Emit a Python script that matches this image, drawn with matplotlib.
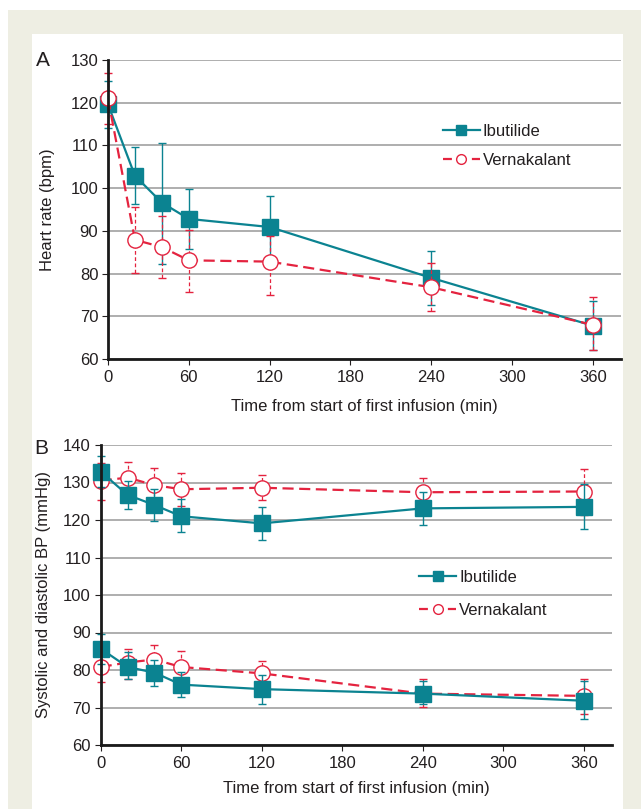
import matplotlib
matplotlib.use("Agg")
import matplotlib.pyplot as plt
from matplotlib.lines import Line2D
from matplotlib.patches import Rectangle

plt.rcParams['font.family'] = ['Liberation Sans', 'DejaVu Sans']

# ---------------- data ----------------
times = [0, 20, 40, 60, 120, 240, 360]
x_ticks = [0, 60, 120, 180, 240, 300, 360]

# Panel A: heart rate
hr_ibu = [119.6, 102.9, 96.6, 92.8, 90.9, 79.0, 67.8]
hr_ibu_lo = [114.0, 96.2, 82.3, 85.7, 83.6, 72.6, 62.0]
hr_ibu_hi = [125.2, 109.6, 110.5, 99.8, 98.2, 85.2, 73.6]
hr_ver = [121.0, 87.9, 86.2, 83.1, 82.8, 76.8, 68.0]
hr_ver_lo = [115.0, 80.1, 78.9, 75.8, 75.0, 71.2, 62.0]
hr_ver_hi = [126.9, 95.7, 93.4, 90.2, 88.7, 82.4, 74.4]

# Panel B: systolic BP
sbp_ibu = [132.9, 126.7, 124.0, 121.0, 119.1, 123.1, 123.5]
sbp_ibu_lo = [128.7, 122.9, 119.7, 116.9, 114.8, 118.6, 117.5]
sbp_ibu_hi = [137.1, 130.5, 128.3, 125.5, 123.4, 127.6, 129.5]
sbp_ver = [130.5, 131.3, 129.3, 128.2, 128.6, 127.4, 127.6]
sbp_ver_lo = [125.3, 127.0, 124.8, 123.8, 125.3, 123.5, 121.3]
sbp_ver_hi = [135.1, 135.6, 133.8, 132.6, 132.0, 131.3, 133.6]

# Panel B: diastolic BP
dbp_ibu = [85.7, 80.8, 79.3, 76.1, 74.9, 73.7, 71.8]
dbp_ibu_lo = [81.7, 77.5, 75.8, 72.8, 71.0, 70.9, 66.9]
dbp_ibu_hi = [89.7, 84.8, 82.8, 79.4, 78.8, 77.1, 77.1]
dbp_ver = [80.8, 82.0, 82.8, 80.8, 79.1, 73.7, 73.1]
dbp_ver_lo = [76.8, 77.7, 79.0, 76.5, 75.9, 70.2, 68.4]
dbp_ver_hi = [84.8, 85.5, 86.6, 85.1, 82.3, 77.5, 77.7]

series_names = ['Ibutilide', 'Vernakalant']
TEAL = '#0b8391'
RED = '#e4233f'
TXT = '#231f20'
FS = 12

fig = plt.figure(figsize=(6.41, 8.09), dpi=100)
fig.patch.set_facecolor('white')
W, H = 641, 809
fig.patches.append(Rectangle((8 / W, 0), 1 - 8 / W, 1 - 10 / H, transform=fig.transFigure,
                             facecolor='#eeeee3', edgecolor='none', zorder=-10))
fig.patches.append(Rectangle((32 / W, 0), (623 - 32) / W, 1 - 34 / H, transform=fig.transFigure,
                             facecolor='white', edgecolor='none', zorder=-9))


def err(v, lo, hi):
    return [[a - b for a, b in zip(v, lo)], [c - a for a, c in zip(v, hi)]]


def plot_ibu(ax, y, lo, hi, z):
    ax.errorbar(times, y, yerr=err(y, lo, hi), color=TEAL, lw=1.6, marker='s', ms=11.5,
                mfc=TEAL, mec=TEAL, ecolor=TEAL, elinewidth=1.0, capsize=3, capthick=1.0,
                zorder=z, clip_on=False)


def plot_ver(ax, y, lo, hi, z):
    ln, caps, bars = ax.errorbar(times, y, yerr=err(y, lo, hi), color=RED, lw=1.6, ls=(0, (5, 2.5)),
                                 marker='o', ms=11, mfc='white', mec=RED, mew=1.0, ecolor=RED,
                                 elinewidth=0.9, capsize=3, capthick=0.9, zorder=z, clip_on=False)
    for b in bars:
        b.set_linestyle((0, (3, 2)))


def style(ax, ylim, yticks, ylabel, ylabelpad, xlabelpad):
    ax.set_xlim(0, 381)
    ax.set_ylim(*ylim)
    ax.set_xticks(x_ticks)
    ax.set_yticks(yticks)
    ax.yaxis.grid(True, color='#a8a8a8', lw=1.3)
    ax.set_axisbelow(True)
    for s in ['top', 'right']:
        ax.spines[s].set_visible(False)
    for s in ['left', 'bottom']:
        ax.spines[s].set_linewidth(2.0)
        ax.spines[s].set_color('#1a1a1a')
        ax.spines[s].set_zorder(5)
    ax.tick_params(axis='both', labelsize=FS, colors=TXT, length=4, width=0.8, pad=3)
    ax.tick_params(axis='x', pad=4)
    ax.set_xlabel('Time from start of first infusion (min)', fontsize=FS, color=TXT, labelpad=xlabelpad)
    ax.set_ylabel(ylabel, fontsize=FS, color=TXT, labelpad=ylabelpad)


def legend(ax, loc, spacing):
    h = [Line2D([], [], color=TEAL, lw=1.6, marker='s', ms=7, mfc=TEAL, mec=TEAL),
         Line2D([], [], color=RED, lw=1.6, ls=(0, (4, 2.5)), marker='o', ms=7, mfc='white', mec=RED)]
    lg = ax.legend(h, series_names, loc='upper left', bbox_to_anchor=loc, frameon=False,
                   fontsize=FS, handlelength=2.2, handletextpad=0.2, labelspacing=spacing,
                   borderaxespad=0)
    for t in lg.get_texts():
        t.set_color(TXT)


# Panel A
axA = fig.add_axes([108 / W, 1 - 359 / H, (621 - 108) / W, (359 - 60) / H])
plot_ibu(axA, hr_ibu, hr_ibu_lo, hr_ibu_hi, 3)
plot_ver(axA, hr_ver, hr_ver_lo, hr_ver_hi, 4)
style(axA, (60, 130), list(range(60, 131, 10)), 'Heart rate (bpm)', 11, 10)
legend(axA, (0.64, 0.808), 0.85)
fig.text(36 / W, 1 - 61 / H, 'A', fontsize=15, color=TXT, va='center', ha='left')

# Panel B
axB = fig.add_axes([100.7 / W, 1 - 745 / H, (612 - 100.7) / W, (745 - 445) / H])
plot_ver(axB, sbp_ver, sbp_ver_lo, sbp_ver_hi, 3)
plot_ibu(axB, sbp_ibu, sbp_ibu_lo, sbp_ibu_hi, 4)
plot_ver(axB, dbp_ver, dbp_ver_lo, dbp_ver_hi, 3)
plot_ibu(axB, dbp_ibu, dbp_ibu_lo, dbp_ibu_hi, 4)
style(axB, (60, 140), list(range(60, 141, 10)), 'Systolic and diastolic BP (mmHg)', 9, 7)
legend(axB, (0.61, 0.605), 1.05)
fig.text(34 / W, 1 - 449 / H, 'B', fontsize=15, color=TXT, va='center', ha='left')

fig.savefig('out.png', dpi=100, facecolor=fig.get_facecolor())
